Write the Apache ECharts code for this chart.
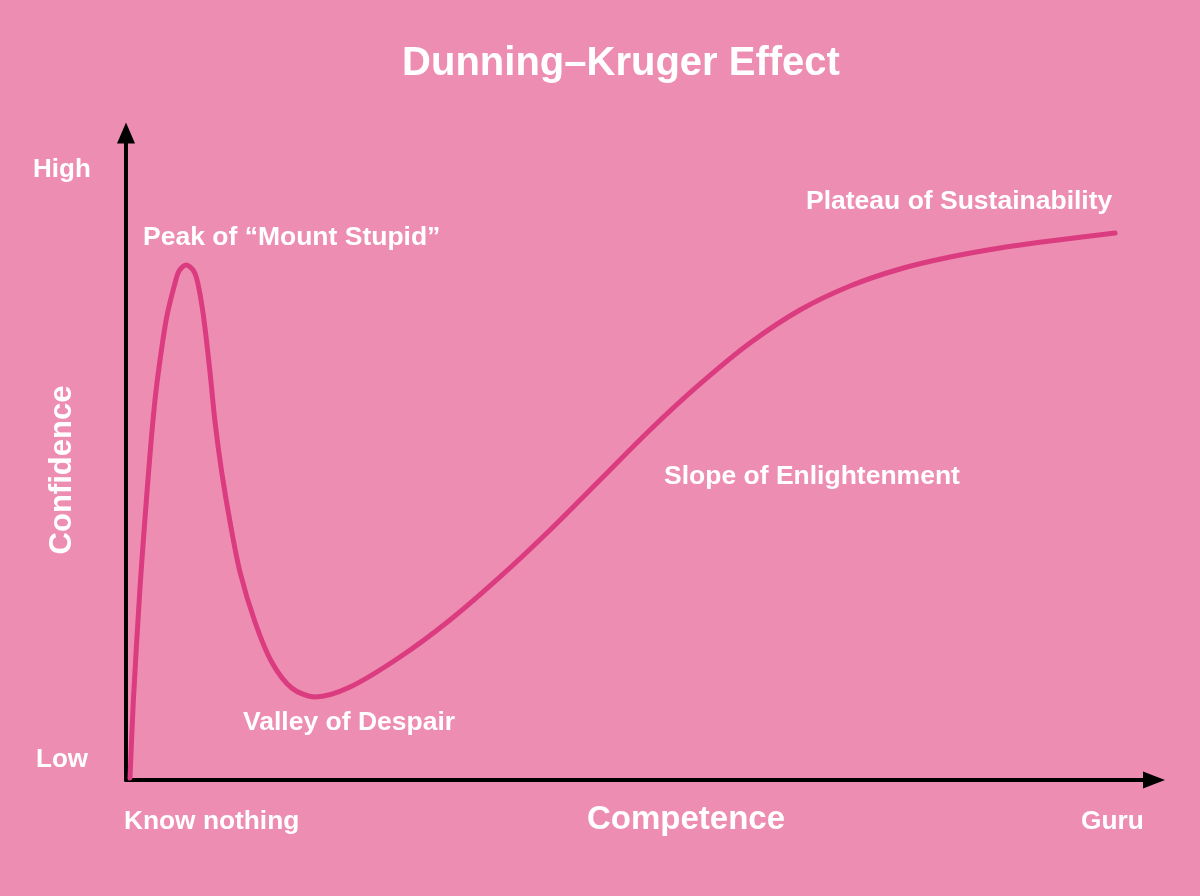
<!DOCTYPE html>
<html>
<head>
<meta charset="utf-8">
<script src="https://cdn.jsdelivr.net/npm/echarts@6/dist/echarts.min.js"></script>
<style>
html,body{margin:0;padding:0;background:#EE8DB2;}
#chart{width:1200px;height:896px;}
</style>
</head>
<body>
<div id="chart"></div>
<script>
// Data (competence 0-100, confidence 0-100)
const competence = [0.39,0.71,1.36,1.85,2.33,2.82,3.31,3.96,4.77,5.16,5.84,6.52,6.96,7.52,8.17,8.66,9.31,10.12,11.09,12.55,14.17,16.12,18.39,21.79,26.65,31.52,36.38,41.25,46.11,50.97,55.84,60.70,65.56,70.43,75.29,80.16,85.02,89.88,96.21];
const confidence = [0.31,12.06,29.68,40.49,50.23,58.73,64.91,71.56,76.82,78.67,79.60,78.83,76.97,71.87,63.06,55.33,47.60,39.88,32.15,24.42,18.24,14.22,12.83,14.37,19.01,24.73,31.38,38.64,46.37,54.10,61.21,67.54,72.64,76.35,78.98,80.83,82.23,83.31,84.54];
const yTickLabels = ['Low','High'];
const xTickLabels = ['Know nothing','Guru'];
const stageLabels = ['Peak of \u201cMount Stupid\u201d','Valley of Despair','Slope of Enlightenment','Plateau of Sustainability'];
const titleText = 'Dunning\u2013Kruger Effect';
const xName = 'Competence';
const yName = 'Confidence';

const FONT = '"Liberation Sans", Arial, sans-serif';
const chart = echarts.init(document.getElementById('chart'));
const txt = (text, x, y, size, align, extra) => Object.assign({
  type: 'text',
  x: x, y: y,
  style: { text: text, fill: '#FFFFFF', font: 'bold ' + size + 'px ' + FONT, textAlign: align, textVerticalAlign: 'middle' },
  z: 10
}, extra || {});

chart.setOption({
  backgroundColor: '#EE8DB2',
  animation: false,
  grid: { left: 126, right: 46, top: 133, bottom: 116 },
  xAxis: {
    type: 'value', min: 0, max: 100,
    axisLine: { show: true, lineStyle: { color: '#000', width: 4 }, symbol: ['none','triangle'], symbolSize: [17, 22] },
    axisTick: { show: false }, axisLabel: { show: false }, splitLine: { show: false }
  },
  yAxis: {
    type: 'value', min: 0, max: 100,
    axisLine: { show: true, lineStyle: { color: '#000', width: 4 }, symbol: ['none','triangle'], symbolSize: [18, 21] },
    axisTick: { show: false }, axisLabel: { show: false }, splitLine: { show: false }
  },
  series: [{
    type: 'line',
    data: competence.map((c, i) => [c, confidence[i]]),
    smooth: 0.3,
    showSymbol: false,
    lineStyle: { color: '#DB3B7F', width: 5, cap: 'round', join: 'round' },
    z: 3
  }],
  graphic: [
    txt(titleText, 621, 64, 40, 'center'),
    txt(xName, 686, 820, 33, 'center'),
    txt(yName, 62, 470, 31, 'center', { rotation: Math.PI / 2 }),
    txt(yTickLabels[1], 33, 170, 26, 'left'),
    txt(yTickLabels[0], 36, 760, 26, 'left'),
    txt(xTickLabels[0], 124, 822, 26.3, 'left'),
    txt(xTickLabels[1], 1081, 822, 26.3, 'left'),
    txt(stageLabels[0], 143, 238, 26.5, 'left'),
    txt(stageLabels[1], 243, 723, 26.5, 'left'),
    txt(stageLabels[2], 664, 477, 26.5, 'left'),
    txt(stageLabels[3], 806, 202, 26.5, 'left')
  ]
});
</script>
</body>
</html>
